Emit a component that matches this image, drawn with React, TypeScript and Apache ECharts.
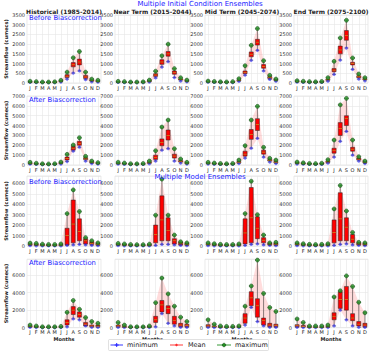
import React, { useEffect, useRef } from "react";
import * as echarts from "echarts";

const MONTHS = ["Jan", "Feb", "Mar", "Apr", "May", "Jun", "Jul", "Aug", "Sep", "Oct", "Nov", "Dec"];
const COLUMN_TITLES = ["Historical (1985-2014)", "Near Term (2015-2044)", "Mid Term (2045-2074)", "End Term (2075-2100)"];
const ROW_LABELS = ["Before Biascorrection", "After Biascorrection", "Before Biascorrection", "After Biascorrection"];
const ROW_MAX = [3500, 7000, 6700, 7800];
const ROW_INTERVAL = [500, 1000, 1000, 2000];

// Row 1: Initial condition ensembles, before bias correction (cols: hist, near, mid, end)
const IC_BEFORE_MAX = [
  [90, 70, 50, 50, 60, 140, 560, 1300, 1620, 560, 200, 140],
  [85, 70, 50, 50, 60, 150, 610, 1400, 2000, 740, 270, 150],
  [100, 80, 60, 55, 70, 220, 890, 1940, 2800, 1150, 395, 205],
  [120, 90, 70, 60, 80, 275, 1115, 2320, 3230, 1290, 465, 275],
];
const IC_BEFORE_MIN = [
  [30, 25, 20, 20, 20, 50, 200, 510, 620, 170, 60, 50],
  [30, 25, 20, 20, 20, 50, 260, 820, 1100, 280, 100, 60],
  [40, 30, 25, 25, 25, 80, 400, 1170, 1680, 620, 180, 90],
  [45, 35, 25, 25, 30, 90, 440, 1180, 1800, 700, 200, 110],
];
const IC_BEFORE_MEAN = [
  [50, 38, 30, 30, 35, 95, 350, 940, 1080, 310, 125, 85],
  [55, 42, 30, 30, 36, 100, 410, 1080, 1500, 530, 180, 100],
  [70, 52, 40, 40, 44, 140, 550, 1480, 2100, 850, 280, 155],
  [80, 60, 45, 45, 52, 170, 660, 1700, 2450, 1000, 320, 190],
];
const IC_BEFORE_Q1 = [
  [40, 30, 25, 25, 28, 80, 280, 830, 930, 230, 100, 70],
  [45, 35, 25, 25, 30, 80, 340, 960, 1380, 450, 150, 85],
  [60, 45, 35, 35, 38, 120, 480, 1350, 1950, 760, 230, 130],
  [70, 50, 40, 40, 45, 140, 580, 1500, 2200, 930, 270, 160],
];
const IC_BEFORE_Q3 = [
  [60, 45, 35, 35, 42, 110, 430, 1050, 1230, 390, 150, 100],
  [65, 50, 35, 35, 42, 115, 480, 1200, 1620, 620, 210, 115],
  [85, 60, 45, 45, 50, 160, 620, 1600, 2250, 950, 330, 180],
  [95, 70, 55, 50, 60, 200, 740, 1900, 2700, 1070, 370, 220],
];

// Row 2: Initial condition ensembles, after bias correction
const IC_AFTER_MAX = [
  [270, 180, 120, 110, 130, 300, 1080, 2030, 2770, 880, 400, 240],
  [280, 200, 130, 120, 150, 400, 1450, 3850, 4560, 1650, 610, 270],
  [270, 200, 150, 130, 160, 500, 1960, 4560, 5950, 1790, 680, 500],
  [300, 220, 160, 140, 180, 540, 2530, 6100, 6760, 2530, 840, 400],
];
const IC_AFTER_MIN = [
  [80, 60, 40, 40, 50, 100, 350, 1400, 1800, 400, 150, 100],
  [80, 60, 40, 40, 50, 120, 400, 1500, 1650, 400, 200, 100],
  [90, 70, 50, 45, 55, 150, 700, 1700, 2700, 800, 300, 150],
  [100, 80, 60, 50, 60, 180, 800, 2400, 3400, 1000, 400, 150],
];
const IC_AFTER_MEAN = [
  [150, 110, 75, 70, 85, 190, 650, 1700, 2200, 620, 270, 170],
  [160, 120, 85, 75, 95, 230, 750, 2300, 3000, 900, 380, 180],
  [180, 130, 100, 85, 110, 280, 1100, 3100, 4100, 1300, 470, 280],
  [200, 150, 110, 95, 120, 330, 1450, 3700, 4700, 1600, 600, 270],
];
const IC_AFTER_Q1 = [
  [120, 90, 60, 60, 70, 150, 500, 1500, 2000, 550, 220, 140],
  [130, 100, 70, 60, 80, 180, 550, 1950, 2530, 700, 300, 150],
  [150, 110, 80, 70, 90, 220, 900, 2600, 3500, 1100, 400, 220],
  [160, 120, 90, 80, 100, 260, 1200, 3000, 4000, 1400, 500, 220],
];
const IC_AFTER_Q3 = [
  [180, 130, 90, 80, 100, 230, 800, 1900, 2400, 750, 320, 190],
  [200, 150, 100, 90, 110, 280, 1000, 2650, 3550, 1100, 450, 220],
  [220, 160, 120, 100, 130, 350, 1400, 3600, 4700, 1500, 550, 350],
  [240, 180, 130, 110, 140, 400, 1700, 4300, 5000, 1800, 700, 330],
];

// Row 3: Multiple model ensembles, before bias correction
const MM_BEFORE_MAX = [
  [280, 250, 180, 150, 150, 200, 3100, 5370, 3300, 800, 500, 300],
  [250, 200, 150, 130, 130, 180, 2950, 6400, 2950, 1050, 400, 300],
  [300, 220, 160, 140, 150, 200, 3100, 6200, 3000, 1050, 300, 350],
  [300, 220, 160, 140, 160, 220, 3550, 5800, 3350, 1300, 350, 300],
];
const MM_BEFORE_MIN = [
  [30, 20, 10, 10, 10, 10, 50, 100, 150, 100, 50, 30],
  [30, 20, 10, 10, 10, 10, 50, 150, 150, 100, 50, 30],
  [30, 20, 10, 10, 10, 10, 50, 150, 200, 100, 50, 30],
  [30, 20, 10, 10, 10, 10, 50, 150, 200, 100, 50, 30],
];
const MM_BEFORE_MEAN = [
  [150, 120, 80, 70, 70, 90, 1000, 2100, 1400, 500, 250, 150],
  [140, 110, 80, 65, 65, 90, 1100, 2500, 1500, 500, 220, 150],
  [150, 110, 80, 65, 70, 90, 1250, 2700, 1700, 550, 180, 170],
  [150, 110, 80, 65, 70, 100, 1300, 2600, 1800, 650, 200, 160],
];
const MM_BEFORE_Q1 = [
  [80, 60, 40, 30, 30, 40, 100, 300, 500, 200, 150, 80],
  [80, 60, 40, 30, 30, 40, 300, 500, 500, 200, 100, 80],
  [90, 60, 40, 30, 30, 40, 200, 300, 700, 300, 100, 80],
  [90, 60, 40, 30, 30, 50, 300, 500, 500, 300, 100, 80],
];
const MM_BEFORE_Q3 = [
  [200, 180, 130, 110, 110, 130, 1700, 4400, 2600, 700, 400, 250],
  [200, 160, 120, 100, 100, 130, 2000, 4800, 2700, 700, 350, 250],
  [220, 170, 120, 100, 110, 140, 2600, 5600, 2800, 800, 250, 280],
  [230, 170, 120, 100, 120, 160, 2500, 5100, 2700, 1100, 300, 250],
];

// Row 4: Multiple model ensembles, after bias correction
const MM_AFTER_MAX = [
  [300, 200, 100, 100, 100, 150, 1750, 3100, 2100, 1150, 700, 500],
  [600, 300, 100, 100, 100, 200, 2850, 5650, 3850, 2450, 1200, 700],
  [900, 400, 200, 150, 150, 200, 2450, 4750, 7700, 3900, 2300, 1850],
  [1000, 600, 200, 200, 200, 300, 3500, 4200, 5900, 4700, 2900, 1700],
];
const MM_AFTER_MIN = [
  [30, 20, 10, 10, 10, 20, 100, 1000, 900, 200, 50, 30],
  [30, 20, 10, 10, 10, 20, 100, 1600, 500, 200, 50, 30],
  [30, 20, 10, 10, 10, 20, 300, 2300, 700, 200, 50, 30],
  [30, 20, 10, 10, 10, 20, 200, 2000, 900, 200, 50, 30],
];
const MM_AFTER_MEAN = [
  [130, 90, 50, 45, 45, 70, 600, 2000, 1500, 400, 200, 180],
  [200, 100, 50, 45, 45, 80, 900, 2600, 2200, 800, 300, 250],
  [200, 120, 70, 55, 55, 80, 1100, 3400, 2500, 800, 300, 250],
  [220, 150, 70, 55, 55, 100, 1300, 3200, 3200, 1100, 400, 300],
];
const MM_AFTER_Q1 = [
  [80, 50, 30, 30, 30, 50, 300, 1500, 1200, 200, 100, 100],
  [100, 60, 30, 30, 30, 50, 600, 1800, 1600, 400, 100, 100],
  [100, 70, 40, 30, 30, 50, 500, 2500, 1200, 300, 100, 100],
  [100, 80, 40, 30, 30, 60, 900, 2200, 2000, 800, 200, 100],
];
const MM_AFTER_Q3 = [
  [200, 130, 70, 60, 60, 100, 900, 2400, 1800, 600, 300, 300],
  [300, 150, 70, 60, 60, 120, 1300, 3100, 2500, 1300, 500, 400],
  [350, 200, 100, 80, 80, 120, 1600, 4100, 3300, 1100, 500, 400],
  [350, 250, 100, 80, 80, 150, 1700, 4100, 4700, 1600, 700, 500],
];

const ROWS = [
  { max: IC_BEFORE_MAX, min: IC_BEFORE_MIN, mean: IC_BEFORE_MEAN, q1: IC_BEFORE_Q1, q3: IC_BEFORE_Q3 },
  { max: IC_AFTER_MAX, min: IC_AFTER_MIN, mean: IC_AFTER_MEAN, q1: IC_AFTER_Q1, q3: IC_AFTER_Q3 },
  { max: MM_BEFORE_MAX, min: MM_BEFORE_MIN, mean: MM_BEFORE_MEAN, q1: MM_BEFORE_Q1, q3: MM_BEFORE_Q3 },
  { max: MM_AFTER_MAX, min: MM_AFTER_MIN, mean: MM_AFTER_MEAN, q1: MM_AFTER_Q1, q3: MM_AFTER_Q3 },
];

const COL_LEFT = [27, 115, 205, 294];
const COL_WIDTH = [74, 75, 74, 74];
const ROW_TOP = [15, 96, 176, 259.2];
const ROW_HEIGHT = [68, 69, 70, 68.5];

const FONT = "DejaVu Sans";

export default function App() {
  const ref = useRef<HTMLDivElement>(null);
  useEffect(() => {
    if (!ref.current) return;
    const chart = echarts.init(ref.current, undefined, { renderer: "svg" });
    const grids: any[] = [];
    const xAxes: any[] = [];
    const yAxes: any[] = [];
    const series: any[] = [];
    for (let r = 0; r < 4; r++) {
      for (let c = 0; c < 4; c++) {
        const g = r * 4 + c;
        const d = ROWS[r];
        const mx = d.max[c], mn = d.min[c], me = d.mean[c], q1 = d.q1[c], q3 = d.q3[c];
        grids.push({
          left: COL_LEFT[c], width: COL_WIDTH[c], top: ROW_TOP[r], height: ROW_HEIGHT[r],
          show: true, borderColor: "#dcdcdc", borderWidth: 0.6, backgroundColor: "#fff",
        });
        xAxes.push({
          type: "category", gridIndex: g, data: MONTHS, boundaryGap: true,
          axisLine: { show: false },
          axisTick: { show: true, alignWithLabel: true, inside: true, interval: 0, length: ROW_HEIGHT[r], lineStyle: { color: "#e6e6e6", width: 0.6 } },
          axisLabel: { fontSize: 5, margin: 2, color: "#222", interval: 0, fontFamily: FONT, formatter: (v: string) => v[0] },
          splitLine: { show: false },
          name: r === 3 ? "Months" : "", nameLocation: "middle", nameGap: 9,
          nameTextStyle: { fontSize: 5, fontWeight: "bold", color: "#222", fontFamily: FONT },
        });
        const iv = ROW_INTERVAL[r];
        yAxes.push({
          type: "value", gridIndex: g, min: 0, max: ROW_MAX[r], interval: iv,
          axisLine: { show: false }, axisTick: { show: false },
          axisLabel: { fontSize: 5, margin: 2, color: "#333", fontFamily: FONT, formatter: (v: number) => (v % iv === 0 ? String(v) : "") },
          splitLine: { lineStyle: { color: "#e6e6e6", width: 0.6 } },
          name: c === 0 ? "Streamflow (cumecs)" : "", nameLocation: "middle", nameRotate: 90, nameGap: 17,
          nameTextStyle: { fontSize: 5, fontWeight: "bold", color: "#222", fontFamily: FONT },
        });
        series.push({
          type: "line", xAxisIndex: g, yAxisIndex: g, data: mn, stack: "band" + g,
          symbol: "none", lineStyle: { opacity: 0 }, silent: true, z: 1,
        });
        series.push({
          type: "line", xAxisIndex: g, yAxisIndex: g, data: mx.map((v, i) => v - mn[i]), stack: "band" + g,
          symbol: "none", lineStyle: { opacity: 0 }, areaStyle: { color: "rgba(255,70,70,0.27)" }, silent: true, z: 1,
        });
        series.push({
          type: "boxplot", xAxisIndex: g, yAxisIndex: g,
          data: MONTHS.map((_, i) => [mn[i], q1[i], me[i], q3[i], mx[i]]),
          boxWidth: [4, 4], itemStyle: { color: "#ff0000", borderColor: "#222", borderWidth: 0.5 }, z: 3,
        });
        series.push({
          type: "scatter", name: "minimum", xAxisIndex: g, yAxisIndex: g, data: mn,
          symbol: "circle", symbolSize: 3.2, itemStyle: { color: "rgba(40,40,255,0.75)" }, z: 4,
        });
        series.push({
          type: "scatter", name: "Mean", xAxisIndex: g, yAxisIndex: g, data: me,
          symbol: "rect", symbolSize: [3.6, 0.8], itemStyle: { color: "#ff9f1a" }, z: 4,
        });
        series.push({
          type: "scatter", name: "maximum", xAxisIndex: g, yAxisIndex: g, data: mx,
          symbol: "circle", symbolSize: 4, itemStyle: { color: "#1f8f1f", borderColor: "#0b3b0b", borderWidth: 0.6 }, z: 5,
        });
      }
    }
    const txt = (text: string, x: number, y: number, size: number, fill: string, weight = "normal", align = "center") => ({
      type: "text", x, y, z: 20,
      style: { text, fill, fontSize: size, fontWeight: weight, fontFamily: FONT, textAlign: align, textVerticalAlign: "middle" },
    });
    const graphic: any[] = [];
    graphic.push(txt("Multiple Initial Condition Ensembles", 200, 4.3, 7, "#2222ff"));
    graphic.push(txt("Multiple Model Ensembles", 200, 177, 7, "#2222ff"));
    COLUMN_TITLES.forEach((t, c) => graphic.push(txt(t, COL_LEFT[c] + COL_WIDTH[c] / 2, 11, 6, "#222", "bold")));
    const labelY = [17.7, 100, 181.7, 262.7];
    ROW_LABELS.forEach((t, r) => graphic.push(txt(t, 29, labelY[r], 6.8, "#2222ff", "normal", "left")));
    // legend
    const ly = 345;
    graphic.push({ type: "rect", z: 20, shape: { x: 108.5, y: 339.5, width: 160, height: 11, r: 1 }, style: { fill: "#fff", stroke: "#cccccc", lineWidth: 0.6 } });
    graphic.push({ type: "line", z: 21, shape: { x1: 110.5, y1: ly, x2: 123, y2: ly }, style: { stroke: "#2222ff", lineWidth: 0.9 } });
    graphic.push({ type: "line", z: 21, shape: { x1: 116.7, y1: ly - 2, x2: 116.7, y2: ly + 2 }, style: { stroke: "#2222ff", lineWidth: 1 } });
    graphic.push({ type: "line", z: 21, shape: { x1: 114.7, y1: ly, x2: 118.7, y2: ly }, style: { stroke: "#2222ff", lineWidth: 1 } });
    graphic.push(txt("minimum", 127, ly, 6.5, "#222", "normal", "left"));
    graphic.push({ type: "line", z: 21, shape: { x1: 170, y1: ly, x2: 183, y2: ly }, style: { stroke: "#ff2222", lineWidth: 0.9 } });
    graphic.push({ type: "line", z: 21, shape: { x1: 176.5, y1: ly - 1.3, x2: 176.5, y2: ly + 1.3 }, style: { stroke: "#ff2222", lineWidth: 0.8 } });
    graphic.push({ type: "line", z: 21, shape: { x1: 175.2, y1: ly, x2: 177.8, y2: ly }, style: { stroke: "#ff2222", lineWidth: 1.2 } });
    graphic.push(txt("Mean", 188, ly, 6.5, "#222", "normal", "left"));
    graphic.push({ type: "line", z: 21, shape: { x1: 217, y1: ly, x2: 231, y2: ly }, style: { stroke: "#1f8f1f", lineWidth: 0.9 } });
    graphic.push({ type: "circle", z: 21, shape: { cx: 224, cy: ly, r: 1.8 }, style: { fill: "#1f8f1f", stroke: "#0b3b0b", lineWidth: 0.5 } });
    graphic.push(txt("maximum", 235, ly, 6.5, "#222", "normal", "left"));

    chart.setOption({
      animation: false,
      backgroundColor: "#fff",
      textStyle: { fontFamily: FONT },
      grid: grids, xAxis: xAxes, yAxis: yAxes, series, graphic,
    });
    return () => chart.dispose();
  }, []);
  return <div ref={ref} style={{ position: "fixed", left: 0, top: 0, width: 374, height: 351 }} />;
}
